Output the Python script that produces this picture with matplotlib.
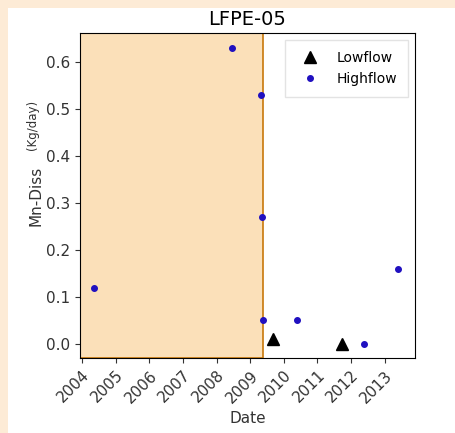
#Mn-Diss loads at LFPE-05, lowflow vs highflow samples
import matplotlib.pyplot as plt
import matplotlib.dates as mdates
from matplotlib.patches import Rectangle
from datetime import datetime

#sample dates and loads (Kg/day)
low_dates = ['2009-09-10', '2011-09-20']
low_vals = [0.01, 0.0]

high_dates = ['2004-05-10', '2008-06-15', '2009-05-01', '2009-05-08',
              '2009-05-18', '2010-05-20', '2012-05-25', '2013-05-25']
high_vals = [0.12, 0.63, 0.53, 0.27, 0.05, 0.05, 0.0, 0.16]

#shaded period
span_start = '2003-11-01'
span_end = '2009-05-22'

def to_dt(lst):
    return [datetime.strptime(d, '%Y-%m-%d') for d in lst]

fig = plt.figure(figsize=(4.55, 4.33), dpi=100)
fig.patch.set_facecolor('#fdebd6')
#white panel inside the beige page
fig.patches.append(Rectangle((8/455, 0), 1, 1 - 8/433, transform=fig.transFigure,
                             facecolor='white', edgecolor='none', zorder=-10))

ax = fig.add_axes([80/455, 1 - 358/433, 335/455, 325/433])

ax.axvspan(datetime.strptime(span_start, '%Y-%m-%d'), datetime.strptime(span_end, '%Y-%m-%d'),
           facecolor='#fbe0b9', edgecolor='#c8780a', linewidth=1.2, zorder=0)

ax.plot(to_dt(low_dates), low_vals, '^', color='black', markersize=8, label='Lowflow', linestyle='none')
ax.plot(to_dt(high_dates), high_vals, 'o', color='#2010c0', markersize=4, label='Highflow', linestyle='none')

ax.set_xlim(datetime(2003, 12, 10), datetime(2013, 11, 25))
ax.set_ylim(-0.03, 0.662)
ax.xaxis.set_major_locator(mdates.YearLocator())
ax.xaxis.set_major_formatter(mdates.DateFormatter('%Y'))
plt.setp(ax.get_xticklabels(), rotation=45, ha='right', rotation_mode='anchor')
ax.set_yticks([0.0, 0.1, 0.2, 0.3, 0.4, 0.5, 0.6])
ax.tick_params(labelsize=11, colors='#333333')

ax.set_title('LFPE-05', fontsize=14, pad=6)
ax.set_xlabel('Date', fontsize=11, color='#333333')
ax.set_ylabel('Mn-Diss', fontsize=11, color='#333333', labelpad=2)
fig.text(32/455, 1 - 125/433, '(Kg/day)', rotation=90, fontsize=8.5, color='#333333',
         ha='center', va='center')

ax.legend(loc='upper right', fontsize=10, frameon=True, fancybox=False,
          borderpad=0.8, handletextpad=0.9, edgecolor='#dddddd')

fig.savefig('out.png', dpi=100, facecolor=fig.get_facecolor())
